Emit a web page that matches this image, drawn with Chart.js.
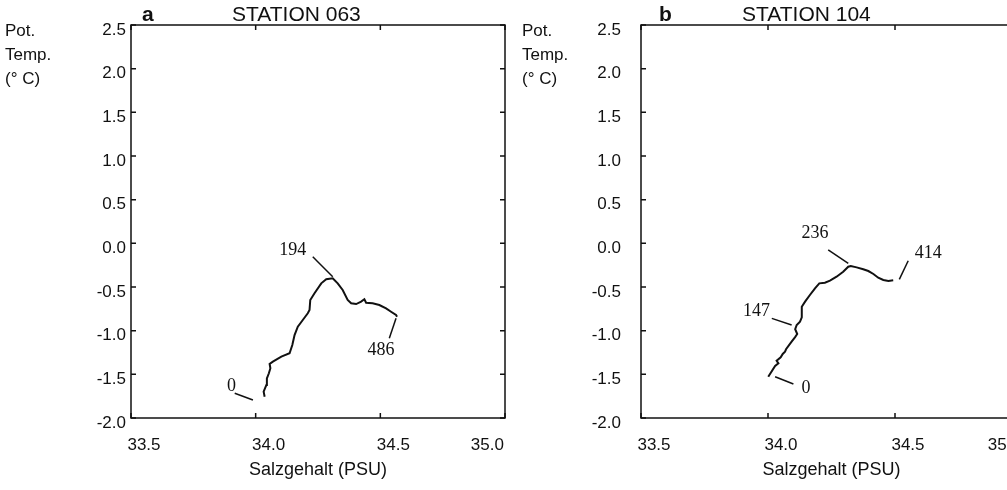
<!DOCTYPE html>
<html>
<head>
<meta charset="utf-8">
<script src="https://cdn.jsdelivr.net/npm/chart.js@4.4.1/dist/chart.umd.min.js"></script>
<style>
body{margin:0;width:1007px;height:490px;overflow:hidden;background:#fff;position:relative;font-family:"Liberation Sans",Arial,sans-serif;color:#111}
canvas{position:absolute;top:0}
#chartA{left:0}
#chartB{left:510px}
.ttl{position:absolute;top:0px;font-size:21px;line-height:28px}
.ttl b{font-weight:bold}
.ylab{position:absolute;top:19px;font-size:17px;line-height:24px}
</style>
</head>
<body>
<canvas id="chartA" width="570" height="490"></canvas>
<canvas id="chartB" width="577" height="490"></canvas>
<div class="ttl" style="left:142px"><b>a</b></div>
<div class="ttl" style="left:232px">STATION 063</div>
<div class="ttl" style="left:659px"><b>b</b></div>
<div class="ttl" style="left:742px">STATION 104</div>
<div class="ylab" style="left:5px">Pot.<br>Temp.<br>(° C)</div>
<div class="ylab" style="left:522px">Pot.<br>Temp.<br>(° C)</div>
<script>
// axis ticks
const salTicks = [33.5, 34.0, 34.5, 35.0];
const tempTicks = [-2.0, -1.5, -1.0, -0.5, 0.0, 0.5, 1.0, 1.5, 2.0, 2.5];

// station 063: salinity / pot. temperature along the profile
const salA = [34.036, 34.032, 34.043, 34.045, 34.053, 34.059, 34.056, 34.069, 34.103, 34.136,
              34.147, 34.156, 34.169, 34.189, 34.209, 34.216, 34.219, 34.236, 34.263, 34.283,
              34.309, 34.329, 34.349, 34.369, 34.383, 34.403, 34.423, 34.436, 34.443, 34.469,
              34.496, 34.523, 34.543, 34.563, 34.567];
const tempA = [-1.756, -1.699, -1.622, -1.546, -1.488, -1.431, -1.382, -1.355, -1.298, -1.259,
               -1.164, -1.050, -0.955, -0.878, -0.801, -0.764, -0.649, -0.572, -0.458, -0.412,
               -0.400, -0.458, -0.534, -0.649, -0.687, -0.695, -0.668, -0.641, -0.680, -0.687,
               -0.706, -0.744, -0.783, -0.821, -0.840];
// depth labels (dbar) and their leader lines
const depthA = ['0', '194', '486'];
const depthAX = [33.903, 34.149, 34.503];
const depthAY = [-1.642, -0.080, -1.230];
const leadAX = [[33.916, 33.989], [34.229, 34.309], [34.563, 34.536]];
const leadAY = [[-1.717, -1.794], [-0.153, -0.382], [-0.859, -1.088]];

// station 104
const salB = [34.001, 34.028, 34.041, 34.034, 34.050, 34.058, 34.067, 34.071, 34.093, 34.106,
              34.115, 34.107, 34.113, 34.126, 34.133, 34.133, 34.146, 34.165, 34.185, 34.202,
              34.224, 34.244, 34.270, 34.296, 34.316, 34.326, 34.349, 34.375, 34.395, 34.415,
              34.434, 34.454, 34.474, 34.493];
const tempB = [-1.527, -1.405, -1.374, -1.344, -1.305, -1.267, -1.241, -1.213, -1.126, -1.076,
               -1.038, -0.984, -0.935, -0.897, -0.847, -0.726, -0.668, -0.592, -0.515, -0.458,
               -0.451, -0.428, -0.382, -0.325, -0.268, -0.260, -0.275, -0.297, -0.317, -0.351,
               -0.394, -0.420, -0.431, -0.423];
const depthB = ['0', '147', '236', '414'];
const depthBX = [34.150, 33.955, 34.185, 34.631];
const depthBY = [-1.660, -0.783, 0.120, -0.110];
const leadBX = [[34.028, 34.100], [34.015, 34.093], [34.237, 34.316], [34.552, 34.517]];
const leadBY = [[-1.527, -1.611], [-0.859, -0.935], [-0.076, -0.229], [-0.199, -0.412]];

const ink = '#111';
const sans = '"Liberation Sans", Arial, sans-serif';

const frame = {
    id: 'frame',
    afterDatasetsDraw(chart) {
        const {ctx, chartArea: a, scales: {x, y}} = chart;
        const lab = chart.options.plugins.frame;
        ctx.save();
        ctx.strokeStyle = ink;
        ctx.lineWidth = 1.5;
        ctx.strokeRect(a.left, a.top, a.right - a.left, a.bottom - a.top);
        ctx.beginPath();
        salTicks.forEach(v => {
            const px = x.getPixelForValue(v);
            ctx.moveTo(px, a.bottom); ctx.lineTo(px, a.bottom - 5);
            ctx.moveTo(px, a.top); ctx.lineTo(px, a.top + 5);
        });
        tempTicks.forEach(v => {
            const py = y.getPixelForValue(v);
            ctx.moveTo(a.left, py); ctx.lineTo(a.left + 5, py);
            ctx.moveTo(a.right, py); ctx.lineTo(a.right - 5, py);
        });
        ctx.stroke();
        ctx.fillStyle = ink;
        ctx.font = '18px "Liberation Serif", "Times New Roman", serif';
        ctx.textAlign = 'center';
        ctx.textBaseline = 'middle';
        lab.text.forEach((t, i) => {
            ctx.fillText(t, x.getPixelForValue(lab.xs[i]), y.getPixelForValue(lab.ys[i]));
        });
        ctx.restore();
    }
};

// the last salinity label sits left of its tick in the original, the others right of it
function salLabel(v) {
    return v === 35 ? '35.0' + ' '.repeat(13) : v.toFixed(1);
}

function makeChart(id, sal, temp, leadX, leadY, text, xs, ys, yPad) {
    const datasets = [{
        data: sal.map((s, i) => ({x: s, y: temp[i]})),
        borderColor: ink, borderWidth: 2, showLine: true, pointRadius: 0, tension: 0
    }];
    leadX.forEach((lx, i) => {
        datasets.push({
            data: lx.map((s, j) => ({x: s, y: leadY[i][j]})),
            borderColor: ink, borderWidth: 1.5, showLine: true, pointRadius: 0
        });
    });
    return new Chart(document.getElementById(id).getContext('2d'), {
        type: 'scatter',
        data: {datasets: datasets},
        options: {
            responsive: false,
            animation: false,
            layout: {padding: {top: 25, right: 65, left: 0, bottom: 0}},
            plugins: {
                legend: {display: false},
                tooltip: {enabled: false},
                frame: {text: text, xs: xs, ys: ys}
            },
            scales: {
                x: {
                    type: 'linear', min: 33.5, max: 35.0,
                    afterBuildTicks: s => { s.ticks = salTicks.map(v => ({value: v})); },
                    afterFit: s => { s.height = 72; s.paddingLeft = 0; s.paddingRight = 0; },
                    grid: {display: false, drawTicks: false},
                    border: {display: false},
                    ticks: {padding: 17, labelOffset: 13, color: ink, font: {family: sans, size: 17},
                            maxRotation: 0, callback: salLabel},
                    title: {display: true, text: 'Salzgehalt (PSU)', color: ink,
                            font: {family: sans, size: 18},
                            padding: {top: 0, bottom: 9}}
                },
                y: {
                    type: 'linear', min: -2.0, max: 2.5,
                    afterBuildTicks: s => { s.ticks = tempTicks.map(v => ({value: v})); },
                    afterFit: s => { s.width = 131; s.paddingTop = 0; s.paddingBottom = 0; },
                    grid: {display: false, drawTicks: false},
                    border: {display: false},
                    ticks: {padding: yPad, labelOffset: 5, color: ink, font: {family: sans, size: 17},
                            callback: v => v.toFixed(1)}
                }
            }
        },
        plugins: [frame]
    });
}

makeChart('chartA', salA, tempA, leadAX, leadAY, depthA, depthAX, depthAY, 5);
makeChart('chartB', salB, tempB, leadBX, leadBY, depthB, depthBX, depthBY, 20);
</script>
</body>
</html>
